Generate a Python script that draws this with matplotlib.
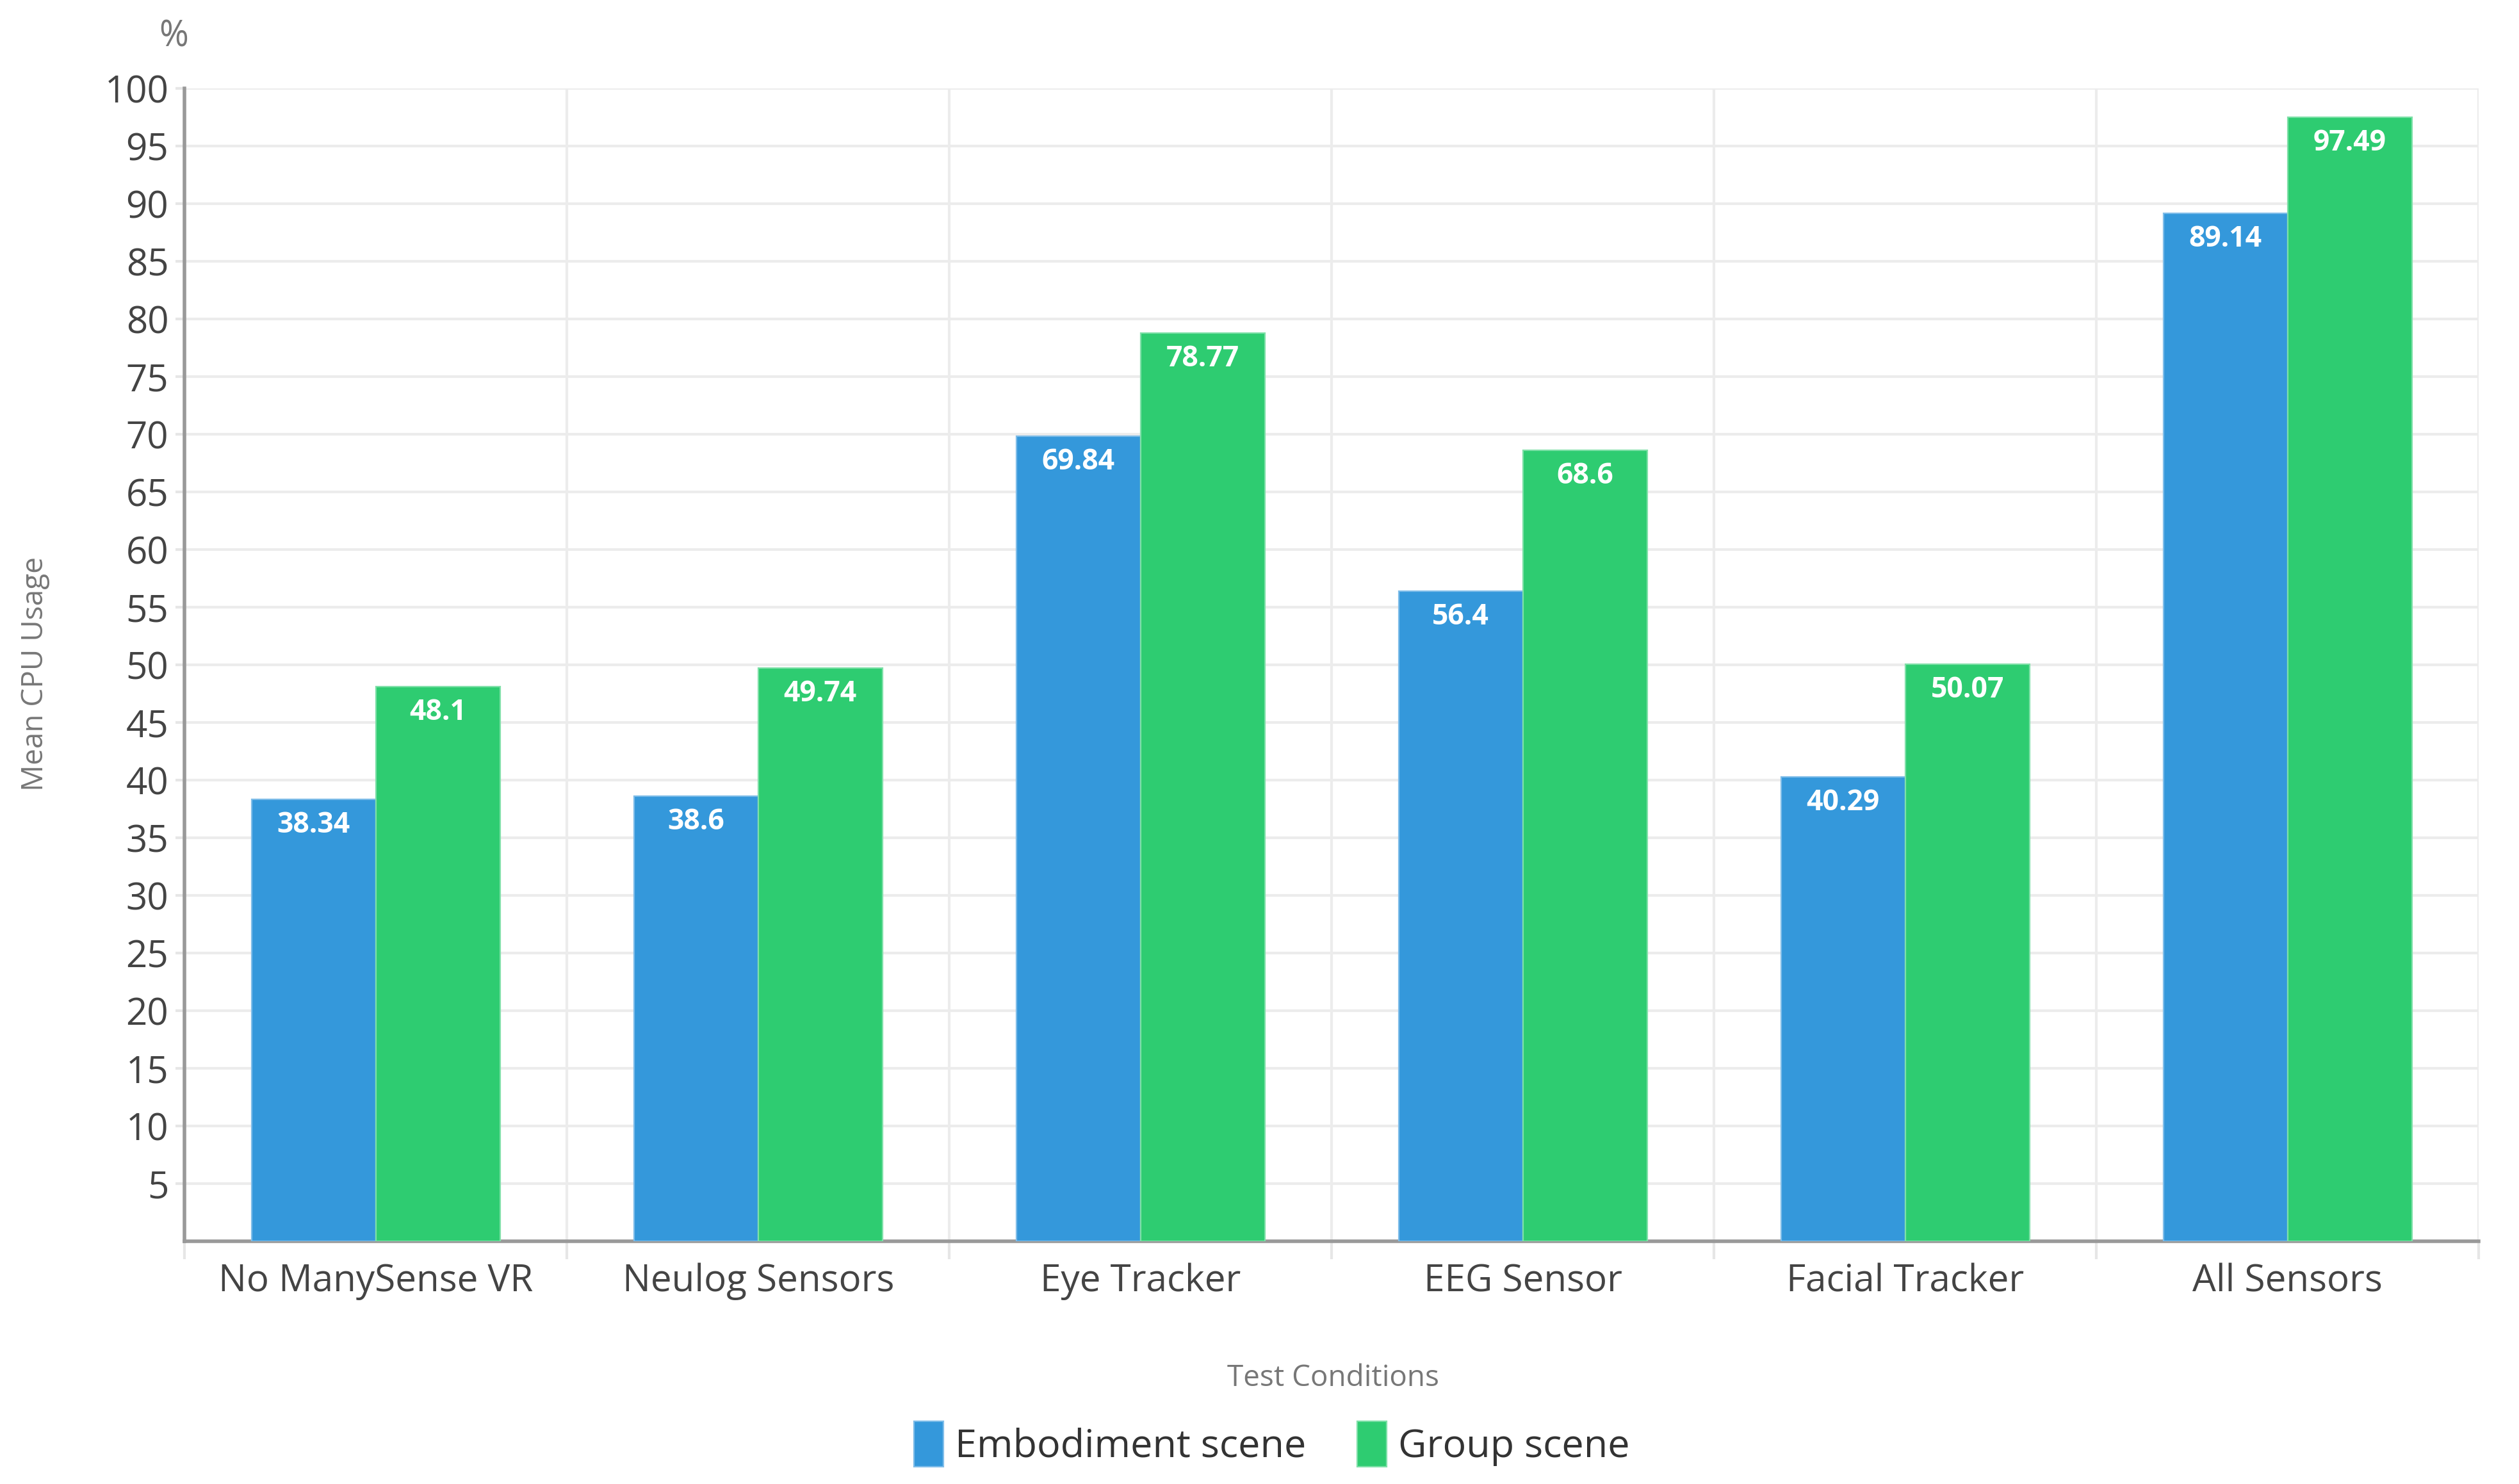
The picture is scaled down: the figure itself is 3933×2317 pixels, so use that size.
import numpy as np
import matplotlib.pyplot as plt

conditions = ["No ManySense VR", "Neulog Sensors", "Eye Tracker",
              "EEG Sensor", "Facial Tracker", "All Sensors"]
embodiment = [38.34, 38.6, 69.84, 56.4, 40.29, 89.14]
group = [48.1, 49.74, 78.77, 68.6, 50.07, 97.49]
yticks = list(range(5, 101, 5))

BLUE = "#3498db"
GREEN = "#2ecc71"

plt.rcParams['font.family'] = ['Open Sans', 'DejaVu Sans']

fig = plt.figure(figsize=(19.665, 11.585), dpi=200)
ax = fig.add_axes([0.0733, 0.1634, 0.9107, 0.7771])

x = np.arange(len(conditions))
w = 0.325
b1 = ax.bar(x - w / 2, embodiment, w, color=BLUE, edgecolor="#7fbde9",
            linewidth=0.8, label="Embodiment scene", zorder=3)
b2 = ax.bar(x + w / 2, group, w, color=GREEN, edgecolor="#7fe0a8",
            linewidth=0.8, label="Group scene", zorder=3)

for xs, vals in ((x - w / 2, embodiment), (x + w / 2, group)):
    for xi, v in zip(xs, vals):
        ax.annotate(f"{v:g}", xy=(xi, v), xytext=(0, -14.5),
                    textcoords="offset points", ha="center", va="center",
                    color="white", fontsize=16, fontweight="bold", zorder=4)

ax.set_xlim(-0.5, len(conditions) - 0.5)
ax.set_ylim(0, 100)
ax.set_yticks(yticks)
ax.tick_params(axis="y", labelsize=21, colors="#e6e6e6", labelcolor="#444444",
               length=5, width=1.5, pad=4)

# category boundaries as ticks / vertical grid
ax.set_xticks(np.arange(-0.5, len(conditions), 1.0))
ax.set_xticklabels([])
ax.set_xticks(x, minor=True)
ax.set_xticklabels(conditions, minor=True)
ax.tick_params(axis="x", which="major", length=10, width=1.5, colors="#e6e6e6")
ax.tick_params(axis="x", which="minor", length=0, labelsize=21,
               labelcolor="#444444", pad=12)

ax.grid(True, which="major", color="#ececec", linewidth=1.5, zorder=0)
ax.set_axisbelow(True)

for s in ("top", "right"):
    ax.spines[s].set_visible(False)
for s in ("left", "bottom"):
    ax.spines[s].set_color("#999999")
    ax.spines[s].set_linewidth(2)

fig.text(0.069, 0.975, "%", ha="center", va="center", fontsize=20,
         color="#777777")
fig.text(0.014, 0.546, "Mean CPU Usage", rotation=90, ha="center",
         va="center", fontsize=16.5, color="#777777")
fig.text(0.5293, 0.071, "Test Conditions", ha="center", va="center",
         fontsize=16.5, color="#777777")

fig.legend(handles=[b1, b2], loc="center", bbox_to_anchor=(0.505, 0.027),
           ncol=2, frameon=False, fontsize=22, handlelength=0.75,
           handleheight=1.4, handletextpad=0.3, columnspacing=1.3,
           labelcolor="#333333")

fig.savefig("out.png", dpi=200, facecolor="white")
